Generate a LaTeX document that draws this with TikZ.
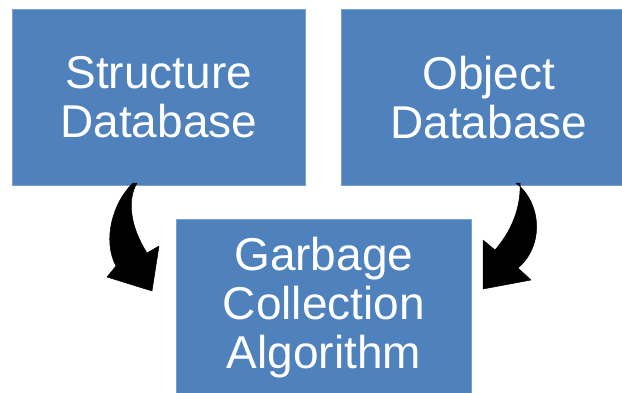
\documentclass[tikz,border=0pt]{standalone}
\usepackage{fontspec}
\setmainfont{Liberation Sans}
\definecolor{boxblue}{RGB}{79,129,189}
\definecolor{edgeblue}{RGB}{120,160,210}
\begin{document}
\begin{tikzpicture}[x=1pt,y=-1pt,
  box/.style={fill=boxblue,draw=edgeblue,line width=0.6pt,text=white,align=center,
    font=\fontsize{46}{49}\selectfont,inner sep=0pt,anchor=north west},
  bigarrow/.style={fill=black,draw=black,line width=0.5pt,line join=round}]
\useasboundingbox (0,0) rectangle (622,392);
\fill[white] (0,0) rectangle (622,392);
\clip (0,0) rectangle (622,392);
\node[box,minimum width=293pt,minimum height=176pt] (s) at (12,9) {Structure\\Database};
\node[box,minimum width=295pt,minimum height=176pt] (o) at (341,9) {Object\\Database};
\node[box,minimum width=295pt,minimum height=176pt] (g) at (176,219) {Garbage\\Collection\\Algorithm};
% left curved arrow
\draw[bigarrow] (133,183) .. controls (113,202) and (102,240) .. (116,266)
  -- (107,277) -- (152,291) -- (159,246) -- (147,253)
  .. controls (130,226) and (127,200) .. (137,183) -- cycle;
% right curved arrow
\draw[bigarrow] (516,183) .. controls (541,202) and (545,245) .. (518,268)
  -- (531,280) -- (483,289) -- (483,240) -- (495,250)
  .. controls (516,226) and (521,200) .. (520,183) -- cycle;
\end{tikzpicture}
\end{document}
